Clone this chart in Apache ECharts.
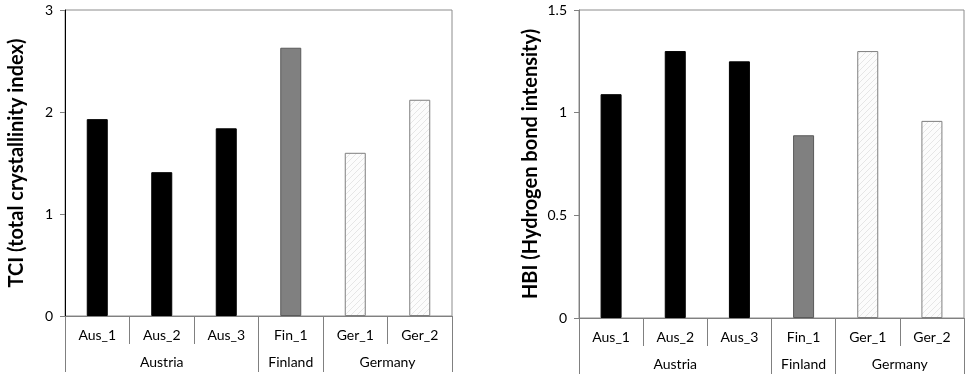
<!DOCTYPE html>
<html>
<head>
<meta charset="utf-8">
<script src="https://cdn.jsdelivr.net/npm/echarts@6/dist/echarts.min.js"></script>
<style>
    html, body { margin: 0; padding: 0; background: #fff; }
    #chart_1 { width: 971px; height: 378px; }
</style>
</head>
<body>
<div id="chart_1"></div>
<script>
// data
var categories = ['Aus_1', 'Aus_2', 'Aus_3', 'Fin_1', 'Ger_1', 'Ger_2'];
var groupNames = ['Austria', 'Finland', 'Germany'];
var groupSizes = [3, 1, 2];
var tciValues = [1.93, 1.41, 1.84, 2.63, 1.60, 2.12];
var hbiValues = [1.09, 1.30, 1.25, 0.89, 1.30, 0.96];
var tciTicks = [0, 1, 2, 3];
var hbiTicks = [0, 0.5, 1, 1.5];

(function () {
    var myChart = echarts.init(document.getElementById("chart_1"));
    var font = 'Lato';

    // hatched fill for Germany
    var hatch = document.createElement('canvas');
    hatch.width = 6;
    hatch.height = 6;
    var ctx = hatch.getContext('2d');
    ctx.fillStyle = '#fcfcfc';
    ctx.fillRect(0, 0, 6, 6);
    ctx.strokeStyle = '#e6e6e6';
    ctx.lineWidth = 1;
    ctx.beginPath();
    ctx.moveTo(0, 6); ctx.lineTo(6, 0);
    ctx.moveTo(-3, 3); ctx.lineTo(3, -3);
    ctx.moveTo(3, 9); ctx.lineTo(9, 3);
    ctx.stroke();

    var groupStyles = [
        { color: '#000', borderColor: '#000', borderWidth: 1 },
        { color: '#808080', borderColor: '#5a5a5a', borderWidth: 1 },
        { color: { image: hatch, repeat: 'repeat' }, borderColor: '#7f7f7f', borderWidth: 1 }
    ];

    // group of each category
    var catGroup = [];
    groupSizes.forEach(function (n, g) {
        for (var i = 0; i < n; i++) catGroup.push(g);
    });

    // group axis: half-cell points, labels at group centres, ticks at group edges
    var halfPoints = [];
    for (var i = 0; i <= categories.length * 2; i++) halfPoints.push('');
    var groupEdges = [0];
    var pos = 0;
    groupSizes.forEach(function (n, g) {
        halfPoints[pos * 2 + n] = groupNames[g];
        pos += n;
        groupEdges.push(pos * 2);
    });

    function makeData(values) {
        return values.map(function (v, i) {
            return { value: v, itemStyle: groupStyles[catGroup[i]] };
        });
    }

    function yAxis(gridIndex, ticks, name, lineColor) {
        return {
            gridIndex: gridIndex,
            type: 'value',
            min: ticks[0],
            max: ticks[ticks.length - 1],
            interval: ticks[1] - ticks[0],
            name: name,
            nameLocation: 'middle',
            nameRotate: 90,
            nameGap: 38,
            nameTextStyle: { fontFamily: font, fontWeight: 'bold', fontSize: 20, color: '#000' },
            axisLine: { show: true, lineStyle: { color: lineColor, width: 1 } },
            axisTick: { show: true, length: 5, lineStyle: { color: '#808080' } },
            axisLabel: { fontFamily: font, fontSize: 14, color: '#000', margin: 12 },
            splitLine: { show: false }
        };
    }

    function catAxis(gridIndex) {
        return {
            gridIndex: gridIndex,
            type: 'category',
            data: categories,
            position: 'bottom',
            axisLine: { show: true, lineStyle: { color: '#808080' } },
            axisTick: { show: true, length: 28, lineStyle: { color: '#808080' } },
            axisLabel: { fontFamily: font, fontSize: 14, color: '#000', margin: 12, interval: 0 }
        };
    }

    function groupAxis(gridIndex) {
        return {
            gridIndex: gridIndex,
            type: 'category',
            data: halfPoints,
            boundaryGap: false,
            position: 'bottom',
            axisLine: { show: false },
            axisTick: {
                show: true,
                length: 56,
                interval: function (index) { return groupEdges.indexOf(index) >= 0; },
                lineStyle: { color: '#808080' }
            },
            axisLabel: {
                fontFamily: font, fontSize: 14, color: '#000', margin: 39,
                interval: function (index, value) { return value !== ''; }
            }
        };
    }

    var option = {
        animation: false,
        grid: [
            { left: 65, top: 10, right: 519, bottom: 62, show: true, borderColor: '#8c8c8c', borderWidth: 1 },
            { left: 579, top: 10, right: 7, bottom: 60, show: true, borderColor: '#8c8c8c', borderWidth: 1 }
        ],
        xAxis: [catAxis(0), groupAxis(0), catAxis(1), groupAxis(1)],
        yAxis: [
            yAxis(0, tciTicks, 'TCI (total crystallinity index)', '#000'),
            yAxis(1, hbiTicks, 'HBI (Hydrogen bond intensity)', '#808080')
        ],
        series: [
            {
                name: 'TCI',
                type: 'bar',
                xAxisIndex: 0,
                yAxisIndex: 0,
                barWidth: 21,
                data: makeData(tciValues)
            },
            {
                name: 'HBI',
                type: 'bar',
                xAxisIndex: 2,
                yAxisIndex: 1,
                barWidth: 21,
                data: makeData(hbiValues)
            }
        ]
    };

    myChart.setOption(option);
    window.addEventListener("resize", function () {
        myChart.resize();
    });
})();
</script>
</body>
</html>
